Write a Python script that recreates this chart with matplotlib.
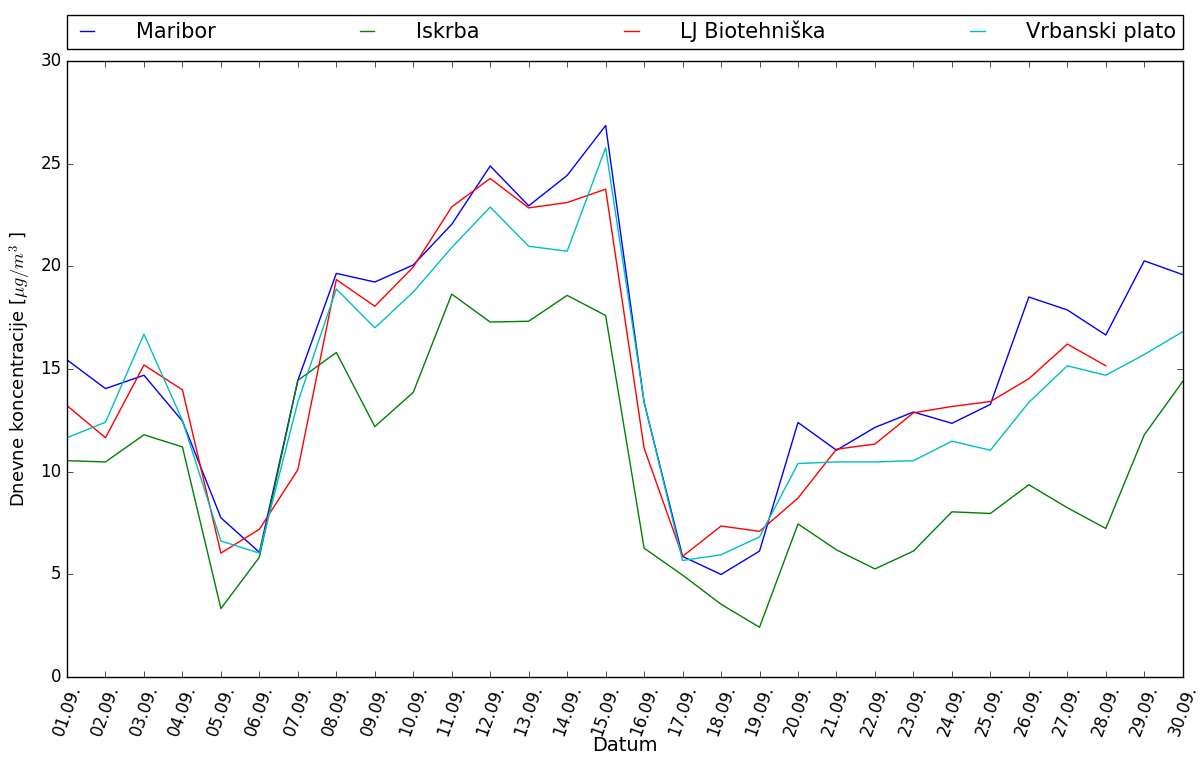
import matplotlib
matplotlib.use("Agg")
import matplotlib.pyplot as plt
import numpy as np

# dnevne koncentracije PM10, september
dni = ["%02d.09." % d for d in range(1, 31)]

maribor = [15.45, 14.05, 14.7, 12.47, 7.76, 6.08, 14.45, 19.66, 19.24, 20.07,
           22.05, 24.89, 22.95, 24.43, 26.86, 13.38, 5.88, 5.0, 6.14, 12.4,
           11.05, 12.16, 12.91, 12.36, 13.28, 18.51, 17.88, 16.66, 20.27, 19.6]
iskrba = [10.54, 10.48, 11.8, 11.21, 3.34, 5.84, 14.45, 15.81, 12.2, 13.87,
          18.65, 17.29, 17.33, 18.59, 17.61, 6.28, 4.97, 3.55, 2.43, 7.46,
          6.2, 5.27, 6.14, 8.05, 7.97, 9.37, 8.25, 7.24, 11.8, 14.4]
lj_bf = [13.22, 11.66, 15.2, 13.99, 6.04, 7.2, 10.1, 19.36, 18.06, 19.97,
         22.9, 24.28, 22.85, 23.11, 23.76, 11.15, 5.88, 7.36, 7.1, 8.72,
         11.1, 11.35, 12.87, 13.18, 13.42, 14.53, 16.22, 15.16, np.nan, np.nan]
vrbanski = [11.66, 12.41, 16.7, 12.5, 6.63, 6.04, 13.4, 18.9, 17.01, 18.75,
            20.92, 22.89, 20.98, 20.74, 25.78, 13.4, 5.68, 5.96, 6.83, 10.4,
            10.48, 10.48, 10.54, 11.49, 11.05, 13.38, 15.16, 14.7, 15.71, 16.82]

plt.style.use('classic')
plt.rcParams['figure.facecolor'] = 'white'
plt.rcParams['savefig.facecolor'] = 'white'
plt.rcParams['mathtext.fontset'] = 'cm'

fig = plt.figure(figsize=(12.01, 7.6), dpi=100)
ax = fig.add_axes([0.0558, 0.109, 0.929, 0.8107])

x = np.arange(len(dni))
ax.plot(x, maribor, color='b', lw=1, label='Maribor')
ax.plot(x, iskrba, color='g', lw=1, label='Iskrba')
ax.plot(x, lj_bf, color='r', lw=1, label='LJ Biotehniška')
ax.plot(x, vrbanski, color='c', lw=1, label='Vrbanski plato')

ax.set_xlim(0, len(dni) - 1)
ax.set_ylim(0, 30)
ax.set_xticks(x)
ax.set_xticklabels(dni, rotation=70, fontsize=12)
ax.tick_params(axis='y', labelsize=12)

ax.set_xlabel('Datum', fontsize=14, labelpad=-2)
ax.set_ylabel(r'Dnevne koncentracije [$\mu g/m^3$ ]', fontsize=13)

ax.legend(bbox_to_anchor=(0., 1.02, 1., .057), loc=3, ncol=4,
          mode="expand", borderaxespad=0., fontsize=15, borderpad=0.3,
          handlelength=1.3, handletextpad=1.7)

fig.savefig("out.png", dpi=100)
